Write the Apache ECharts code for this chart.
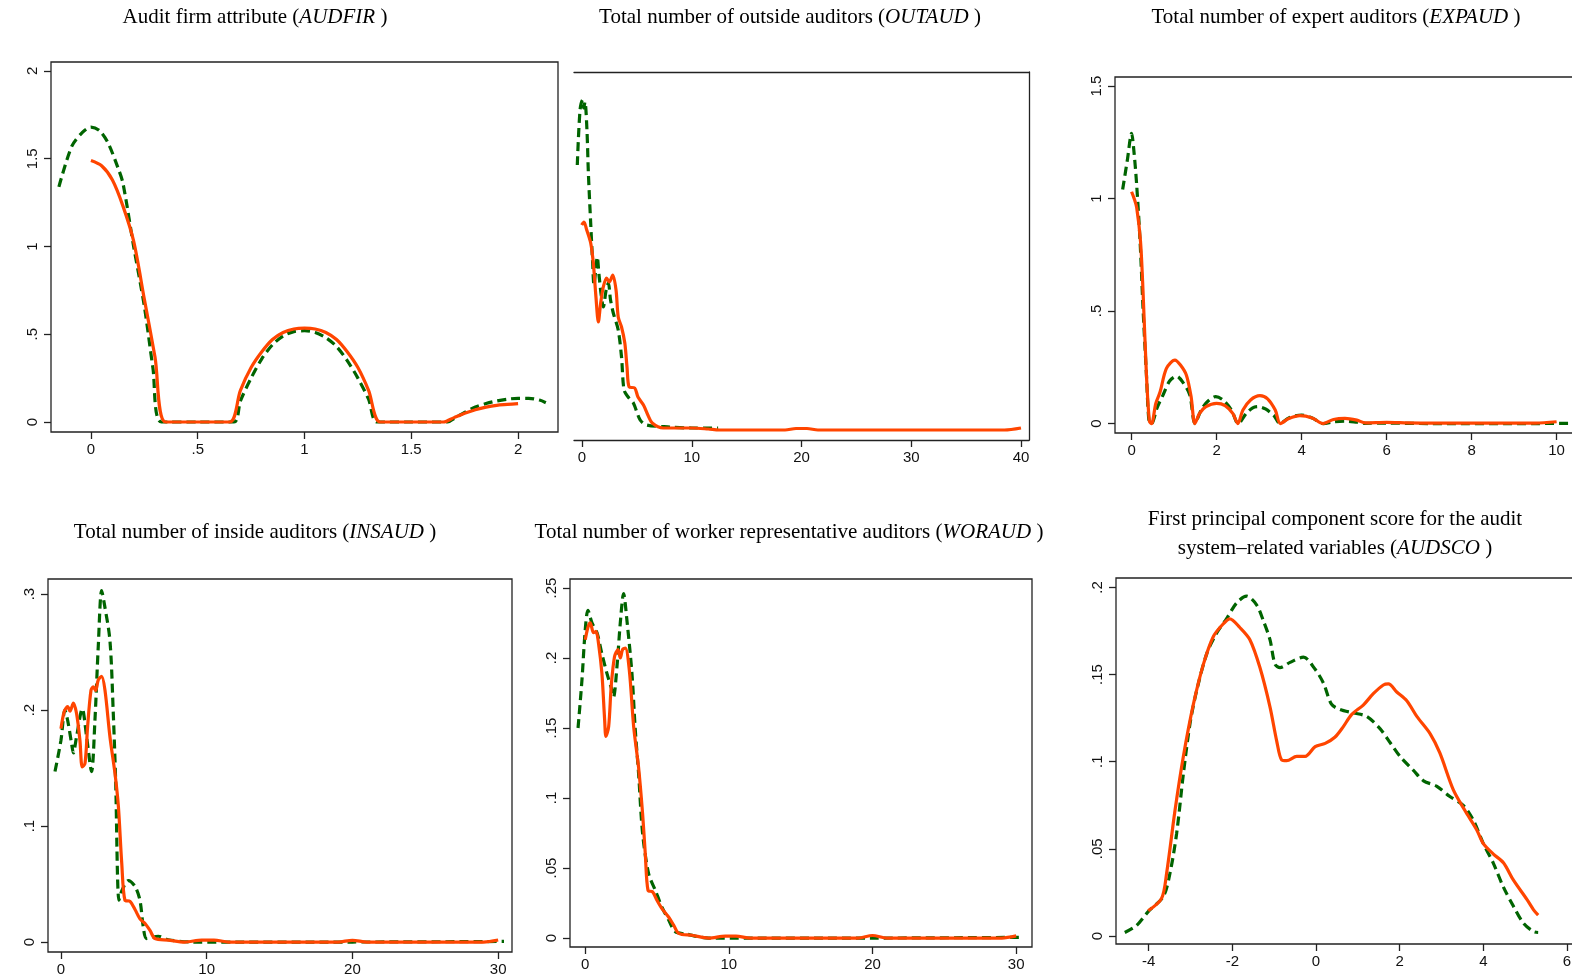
<!DOCTYPE html>
<html>
<head>
<meta charset="utf-8">
<script src="https://cdn.jsdelivr.net/npm/echarts@6/dist/echarts.min.js"></script>
<style>
html, body { margin: 0; padding: 0; background: #fff; }
#main { width: 1572px; height: 980px; }
</style>
</head>
<body>
<div id="main"></div>
<script>
// panel titles (italic part between {i| })
var titles = [
    'Audit firm attribute ({i|AUDFIR} )',
    'Total number of outside auditors ({i|OUTAUD} )',
    'Total number of expert auditors ({i|EXPAUD} )',
    'Total number of inside auditors ({i|INSAUD} )',
    'Total number of worker representative auditors ({i|WORAUD} )',
    'First principal component score for the audit\nsystem\u2013related variables ({i|AUDSCO} )'
];

// tick values per panel
var audfirXTicks = [0, 0.5, 1, 1.5, 2];
var audfirYTicks = [0, 0.5, 1, 1.5, 2];
var outaudXTicks = [0, 10, 20, 30, 40];
var expaudXTicks = [0, 2, 4, 6, 8, 10];
var expaudYTicks = [0, 0.5, 1, 1.5];
var insaudXTicks = [0, 10, 20, 30];
var insaudYTicks = [0, 0.1, 0.2, 0.3];
var woraudXTicks = [0, 10, 20, 30];
var woraudYTicks = [0, 0.05, 0.1, 0.15, 0.2, 0.25];
var audscoXTicks = [-4, -2, 0, 2, 4, 6];
var audscoYTicks = [0, 0.05, 0.1, 0.15, 0.2];

// densities [x, density]: solid = orange line, dashed = green line
var audfirSolid = [[0,1.49],[0.05,1.46],[0.10,1.38],[0.15,1.23],[0.20,1.03],[0.25,0.70],[0.30,0.37],[0.35,0],[0.50,0],[0.65,0],
    [0.70,0.18],[0.75,0.31],[0.80,0.40],[0.85,0.47],[0.90,0.51],[0.95,0.53],[1.00,0.535],[1.05,0.53],[1.10,0.51],[1.15,0.47],
    [1.20,0.40],[1.25,0.31],[1.30,0.18],[1.355,0],[1.50,0],[1.65,0],[1.70,0.025],[1.75,0.05],[1.80,0.07],[1.85,0.085],
    [1.90,0.095],[1.95,0.10],[2.00,0.105]];
var audfirDashed = [[-0.15,1.34],[-0.09,1.57],[-0.04,1.65],[0,1.68],[0.04,1.66],[0.08,1.59],[0.126,1.45],[0.15,1.36],[0.20,1.00],
    [0.25,0.66],[0.29,0.31],[0.33,0],[0.50,0],[0.67,0],[0.70,0.12],[0.75,0.25],[0.80,0.36],[0.85,0.44],[0.90,0.49],[0.95,0.515],
    [1.00,0.52],[1.05,0.51],[1.10,0.48],[1.15,0.43],[1.20,0.35],[1.25,0.25],[1.30,0.13],[1.34,0],[1.50,0],[1.67,0],[1.70,0.02],
    [1.75,0.055],[1.80,0.085],[1.85,0.105],[1.90,0.12],[1.95,0.13],[2.00,0.135],[2.05,0.135],[2.10,0.125],[2.13,0.11]];

var outaudSolid = [[-0.03,0.205],[0.18,0.208],[0.43,0.20],[0.79,0.187],[1.03,0.167],[1.27,0.133],[1.49,0.108],[1.7,0.127],
    [1.94,0.143],[2.24,0.152],[2.49,0.148],[2.8,0.155],[3.1,0.14],[3.3,0.113],[3.6,0.103],[3.9,0.087],[4.1,0.063],[4.3,0.043],
    [4.8,0.042],[5.1,0.033],[5.6,0.025],[6.0,0.015],[6.4,0.007],[7.4,0.002],[10,0.002],[11.5,0.001],[12.5,0],[18.5,0],
    [19.5,0.0015],[20.5,0.0015],[21.5,0],[38.5,0],[40,0.002]];
var outaudDashed = [[-0.43,0.265],[-0.18,0.32],[0.05,0.33],[0.15,0.322],[0.27,0.328],[0.45,0.30],[0.58,0.257],[0.79,0.207],
    [0.97,0.167],[1.09,0.145],[1.25,0.16],[1.39,0.173],[1.55,0.155],[1.75,0.135],[1.94,0.123],[2.2,0.14],[2.4,0.147],[2.6,0.13],
    [2.85,0.117],[3.3,0.10],[3.6,0.073],[3.83,0.04],[4.2,0.033],[4.68,0.027],[5.3,0.01],[5.9,0.005],[8.0,0.003],[10,0.002],
    [11.9,0.002],[12.4,0.002]];

var expaudSolid = [[0,1.03],[0.06,1.0],[0.12,0.96],[0.21,0.81],[0.27,0.585],[0.35,0.215],[0.42,0.01],[0.47,0],[0.57,0.09],
    [0.67,0.14],[0.82,0.245],[1.02,0.282],[1.15,0.26],[1.29,0.215],[1.4,0.12],[1.49,0],[1.6,0.045],[1.75,0.075],[2.0,0.09],
    [2.2,0.08],[2.38,0.045],[2.5,0],[2.62,0.06],[2.8,0.105],[3.02,0.124],[3.2,0.11],[3.38,0.06],[3.5,0],[3.7,0.022],[3.96,0.035],
    [4.25,0.025],[4.5,0],[4.75,0.018],[5.02,0.023],[5.3,0.015],[5.5,0.003],[6.0,0.005],[6.5,0.003],[7,0.002],[9.5,0.002],[10,0.008]];
var expaudDashed = [[-0.21,1.04],[-0.1,1.17],[0,1.29],[0.06,1.2],[0.12,1.06],[0.2,0.81],[0.27,0.51],[0.35,0.215],[0.41,0.01],
    [0.47,0],[0.6,0.07],[0.74,0.127],[0.9,0.19],[1.06,0.21],[1.2,0.185],[1.37,0.127],[1.49,0],[1.65,0.065],[1.8,0.10],[1.98,0.12],
    [2.15,0.105],[2.35,0.06],[2.51,0],[2.7,0.045],[2.85,0.07],[2.98,0.075],[3.15,0.065],[3.35,0.035],[3.49,0],[3.7,0.025],
    [4.0,0.038],[4.25,0.025],[4.51,0],[4.75,0.008],[5.02,0.011],[5.3,0.006],[5.5,0.001],[6,0.002],[7,0],[9.5,0],[10.3,0.001]];

var insaudSolid = [[0,0.184],[0.23,0.199],[0.46,0.203],[0.62,0.199],[0.85,0.206],[1.07,0.197],[1.3,0.174],[1.46,0.151],
    [1.65,0.154],[1.83,0.186],[2.06,0.217],[2.22,0.22],[2.38,0.217],[2.56,0.226],[2.79,0.229],[3.02,0.217],[3.36,0.177],
    [3.71,0.145],[3.94,0.117],[4.17,0.068],[4.39,0.036],[4.74,0.035],[5.08,0.028],[5.42,0.02],[5.77,0.016],[6.11,0.01],
    [6.45,0.003],[7.36,0.0017],[8.5,0],[9.66,0.0017],[10.5,0.0017],[11.5,0],[19,0],[20,0.0015],[21,0],[29,0],[30,0.0017]];
var insaudDashed = [[-0.41,0.147],[0,0.174],[0.27,0.2],[0.46,0.191],[0.73,0.171],[0.85,0.163],[1.07,0.177],[1.46,0.201],
    [1.76,0.177],[2.1,0.147],[2.33,0.191],[2.56,0.255],[2.79,0.303],[2.97,0.292],[3.36,0.26],[3.59,0.197],[3.75,0.14],
    [3.98,0.036],[4.2,0.045],[4.62,0.053],[5.08,0.048],[5.42,0.036],[5.65,0.013],[5.88,0.003],[6.68,0.005],[7.36,0.002],
    [9,0],[20,0],[30.4,0.0005]];

var woraudSolid = [[0.01,0.213],[0.2,0.222],[0.36,0.225],[0.59,0.218],[0.76,0.219],[0.94,0.21],[1.17,0.189],[1.36,0.156],
    [1.45,0.144],[1.64,0.151],[1.82,0.18],[2.05,0.201],[2.29,0.206],[2.45,0.2],[2.61,0.206],[2.8,0.207],[3.08,0.191],
    [3.38,0.151],[3.72,0.122],[4.0,0.089],[4.19,0.06],[4.38,0.034],[4.7,0.033],[5.0,0.027],[5.35,0.021],[5.81,0.015],
    [6.16,0.0093],[6.51,0.0034],[7.44,0.002],[8.6,0],[9.76,0.0014],[10.5,0.0014],[11.5,0],[19,0],[20,0.0018],[21,0],[29,0],[30,0.0015]];
var woraudDashed = [[-0.49,0.15],[-0.22,0.184],[0.01,0.22],[0.2,0.234],[0.48,0.225],[0.83,0.218],[1.17,0.203],[1.52,0.189],
    [1.87,0.177],[1.98,0.172],[2.22,0.194],[2.45,0.225],[2.68,0.246],[2.91,0.227],[3.26,0.189],[3.49,0.149],[3.72,0.118],
    [4.0,0.075],[4.42,0.046],[4.89,0.034],[5.35,0.022],[5.81,0.013],[6.28,0.0045],[6.97,0.003],[8.6,0],[20,0],[30.5,0.0005]];

var audscoSolid = [[-4.01,0.0145],[-3.69,0.0216],[-3.57,0.036],[-3.37,0.072],[-3.17,0.103],[-2.93,0.133],[-2.69,0.156],
    [-2.45,0.172],[-2.22,0.179],[-2.06,0.182],[-1.82,0.177],[-1.58,0.17],[-1.34,0.154],[-1.1,0.1315],[-0.94,0.112],[-0.82,0.101],
    [-0.70,0.1006],[-0.46,0.103],[-0.26,0.103],[-0.02,0.1086],[0.22,0.1105],[0.45,0.114],[0.65,0.12],[0.85,0.127],[1.13,0.1325],
    [1.37,0.139],[1.61,0.144],[1.73,0.1446],[1.93,0.14],[2.17,0.135],[2.41,0.126],[2.73,0.116],[2.96,0.105],[3.28,0.084],
    [3.56,0.072],[3.84,0.061],[4.0,0.053],[4.24,0.047],[4.48,0.042],[4.72,0.032],[5.04,0.021],[5.2,0.015],[5.31,0.012]];
var audscoDashed = [[-4.57,0.002],[-4.29,0.006],[-4.01,0.014],[-3.65,0.0226],[-3.49,0.036],[-3.33,0.059],[-3.17,0.093],
    [-3.01,0.122],[-2.85,0.141],[-2.61,0.162],[-2.37,0.174],[-2.14,0.182],[-1.9,0.191],[-1.66,0.195],[-1.42,0.19],[-1.26,0.181],
    [-1.1,0.17],[-0.98,0.156],[-0.86,0.154],[-0.62,0.157],[-0.30,0.160],[-0.02,0.153],[0.18,0.145],[0.37,0.133],[0.57,0.130],
    [0.89,0.128],[1.21,0.126],[1.53,0.119],[1.77,0.111],[2.01,0.103],[2.33,0.095],[2.57,0.089],[2.88,0.086],[3.2,0.080],
    [3.52,0.075],[3.76,0.0665],[4.0,0.053],[4.24,0.0417],[4.48,0.028],[4.72,0.017],[4.96,0.0073],[5.2,0.0025],[5.31,0.002]];

// layout of the six panels (pixels) and axis ranges
var panels = [
    {box: [51, 62, 507, 370], x: [-0.187, 2.187], y: [-0.057, 2.051], xt: audfirXTicks, yt: audfirYTicks, solid: audfirSolid, dashed: audfirDashed, title: [255, 17]},
    {box: [574, 72, 455, 368], x: [-0.73, 40.73], y: [-0.010, 0.358], xt: outaudXTicks, yt: null, solid: outaudSolid, dashed: outaudDashed, title: [790, 17]},
    {box: [1115, 77, 465, 356], x: [-0.39, 10.55], y: [-0.042, 1.54], xt: expaudXTicks, yt: expaudYTicks, solid: expaudSolid, dashed: expaudDashed, title: [1336, 17]},
    {box: [48, 579, 464, 373], x: [-0.89, 30.95], y: [-0.0086, 0.313], xt: insaudXTicks, yt: insaudYTicks, solid: insaudSolid, dashed: insaudDashed, title: [255, 532]},
    {box: [570, 579, 462, 368], x: [-1.05, 31.1], y: [-0.0064, 0.2564], xt: woraudXTicks, yt: woraudYTicks, solid: woraudSolid, dashed: woraudDashed, title: [789, 532]},
    {box: [1116, 578, 464, 366], x: [-4.78, 6.31], y: [-0.0046, 0.2054], xt: audscoXTicks, yt: audscoYTicks, solid: audscoSolid, dashed: audscoDashed, title: [1335, 534]}
];

var axisColor = '#222';
var orange = '#ff4500';
var green = '#006400';
var titleSize = 21;
var labelSize = 15;

// stata style labels: .5 instead of 0.5
function stataLabel(v) {
    var s = String(+v.toFixed(4));
    return s.replace(/^0\./, '.').replace(/^-0\./, '-.');
}

var myChart = echarts.init(document.getElementById('main'), null, {renderer: 'canvas'});

var grids = [], xAxes = [], yAxes = [], series = [], titleOpts = [];

for (var i = 0; i < panels.length; i++) {
    var p = panels[i];
    var noLeft = (p.yt == null);
    grids.push({
        left: p.box[0], top: p.box[1], width: p.box[2], height: p.box[3],
        show: !noLeft, borderColor: axisColor, borderWidth: 1.3,
        containLabel: false, outerBoundsMode: 'none'
    });
    xAxes.push({
        gridIndex: i, type: 'value', min: p.x[0], max: p.x[1], position: 'bottom',
        axisLine: {show: noLeft, onZero: false, lineStyle: {color: axisColor, width: 1.3}},
        axisTick: {show: true, inside: false, length: 7, customValues: p.xt, lineStyle: {color: axisColor, width: 1.3}},
        axisLabel: {customValues: p.xt, formatter: stataLabel, margin: 10, fontFamily: 'Liberation Sans', fontSize: labelSize, color: '#111'},
        splitLine: {show: false}
    });
    if (noLeft) {
        yAxes.push({gridIndex: i, type: 'value', min: p.y[0], max: p.y[1], show: false});
    } else {
        yAxes.push({
            gridIndex: i, type: 'value', min: p.y[0], max: p.y[1], position: 'left',
            axisLine: {show: false, onZero: false},
            axisTick: {show: true, inside: false, length: 7, customValues: p.yt, lineStyle: {color: axisColor, width: 1.3}},
            axisLabel: {customValues: p.yt, formatter: stataLabel, rotate: 90, margin: 11, fontFamily: 'Liberation Sans', fontSize: labelSize, color: '#111'},
            splitLine: {show: false}
        });
    }
    series.push({
        name: 'dashed', type: 'line', xAxisIndex: i, yAxisIndex: i, data: p.dashed,
        symbol: 'none', smooth: 0.3, silent: true,
        lineStyle: {color: green, width: 3.2, type: [9, 5], cap: 'butt'}
    });
    series.push({
        name: 'solid', type: 'line', xAxisIndex: i, yAxisIndex: i, data: p.solid,
        symbol: 'none', smooth: 0.3, silent: true,
        lineStyle: {color: orange, width: 3.2}
    });
    var twoLines = titles[i].indexOf('\n') >= 0;
    var lh = twoLines ? 29 : 24;
    titleOpts.push({
        text: titles[i], left: p.title[0], top: p.title[1] - (twoLines ? lh : lh / 2),
        textAlign: 'center', padding: 0,
        textStyle: {
            fontFamily: 'Liberation Serif', fontSize: titleSize, fontWeight: 'normal', color: '#000', lineHeight: lh,
            rich: {i: {fontFamily: 'Liberation Serif', fontSize: titleSize, fontStyle: 'italic', color: '#000', lineHeight: lh}}
        }
    });
}

// panel 2 is cut on the left: top and right frame lines only
var cut = panels[1];
xAxes.push({
    gridIndex: 1, type: 'value', min: cut.x[0], max: cut.x[1], position: 'top',
    axisLine: {show: true, onZero: false, lineStyle: {color: axisColor, width: 1.3}},
    axisTick: {show: false}, axisLabel: {show: false}, splitLine: {show: false}
});
yAxes.push({
    gridIndex: 1, type: 'value', min: cut.y[0], max: cut.y[1], position: 'right',
    axisLine: {show: true, onZero: false, lineStyle: {color: axisColor, width: 1.3}},
    axisTick: {show: false}, axisLabel: {show: false}, splitLine: {show: false}
});

var option = {
    animation: false,
    backgroundColor: '#fff',
    title: titleOpts,
    grid: grids,
    xAxis: xAxes,
    yAxis: yAxes,
    series: series
};

myChart.setOption(option);
</script>
</body>
</html>
